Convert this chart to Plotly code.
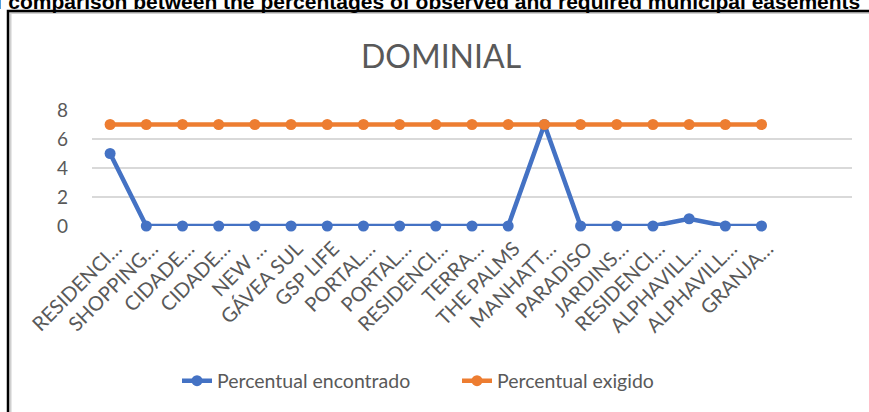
import plotly.graph_objects as go

# Condominium names (truncated as shown on the axis)
condominios = [
    "RESIDENCI…", "SHOPPING…", "CIDADE…", "CIDADE…", "NEW …",
    "GÁVEA SUL", "GSP LIFE", "PORTAL…", "PORTAL…", "RESIDENCI…",
    "TERRA…", "THE PALMS", "MANHATT…", "PARADISO", "JARDINS…",
    "RESIDENCI…", "ALPHAVILL…", "ALPHAVILL…", "GRANJA…",
]
percentual_encontrado = [5, 0, 0, 0, 0, 0, 0, 0, 0, 0, 0, 0, 7, 0, 0, 0, 0.5, 0, 0]
percentual_exigido = [7] * len(condominios)
y_ticks = [0, 2, 4, 6, 8]

W, H = 869, 412
L, R, T, B = 92, 17, 110, 186
PW, PH = W - L - R, H - T - B


def px_x(p):
    return (p - L) / PW


def px_y(p):
    return (H - B - p) / PH


pos = list(range(len(condominios)))
BLUE, ORANGE, GRAY = "#4472C4", "#ED7D31", "#595959"
FONT = "Lato"

fig = go.Figure()
fig.add_trace(go.Scatter(
    x=pos, y=percentual_encontrado, name="Percentual encontrado",
    mode="lines+markers", line=dict(color=BLUE, width=4.5),
    marker=dict(color=BLUE, size=11), cliponaxis=False,
))
fig.add_trace(go.Scatter(
    x=pos, y=percentual_exigido, name="Percentual exigido",
    mode="lines+markers", line=dict(color=ORANGE, width=4.5),
    marker=dict(color=ORANGE, size=11), cliponaxis=False,
))

fig.update_layout(
    width=W, height=H,
    margin=dict(l=L, r=R, t=T, b=B),
    paper_bgcolor="white", plot_bgcolor="white",
    font=dict(family=FONT, color=GRAY, size=19),
    showlegend=True,
    legend=dict(
        orientation="h", x=px_x(177), y=px_y(381),
        xanchor="left", yanchor="middle",
        font=dict(family=FONT, size=19.5, color=GRAY),
        entrywidth=235, bgcolor="rgba(0,0,0,0)",
    ),
    xaxis=dict(
        range=[-0.5, 20.5], tickmode="array", tickvals=pos, ticktext=condominios,
        tickangle=-45, showgrid=False, zeroline=False, showline=False,
        ticklabelstandoff=6, ticklabelshift=6,
        tickfont=dict(family=FONT, size=20, color=GRAY),
    ),
    yaxis=dict(
        range=[0, 8], tickmode="array", tickvals=y_ticks,
        showgrid=True, gridcolor="#D9D9D9", gridwidth=1.5,
        zeroline=False, showline=False, ticklabelstandoff=23,
        tickfont=dict(family=FONT, size=19, color=GRAY),
    ),
    annotations=[
        dict(text="DOMINIAL", xref="paper", yref="paper",
             x=px_x(441), y=px_y(55), xanchor="center", yanchor="middle",
             showarrow=False, font=dict(family=FONT, size=32, color=GRAY)),
        dict(text="<b>Graph of comparison between the percentages of observed and required municipal easements</b>",
             xref="paper", yref="paper", x=px_x(862), y=px_y(15),
             xanchor="right", yanchor="bottom", showarrow=False,
             font=dict(family="Liberation Sans", size=21, color="black")),
    ],
    shapes=[
        dict(type="rect", xref="paper", yref="paper",
             x0=px_x(10.5), x1=px_x(890), y0=px_y(13), y1=px_y(430),
             line=dict(color="#D0D0D0", width=2), layer="below"),
        dict(type="rect", xref="paper", yref="paper",
             x0=px_x(8), x1=px_x(890), y0=px_y(11), y1=px_y(430),
             line=dict(color="black", width=2.5), layer="below"),
    ],
)

fig.write_html("out.html")
